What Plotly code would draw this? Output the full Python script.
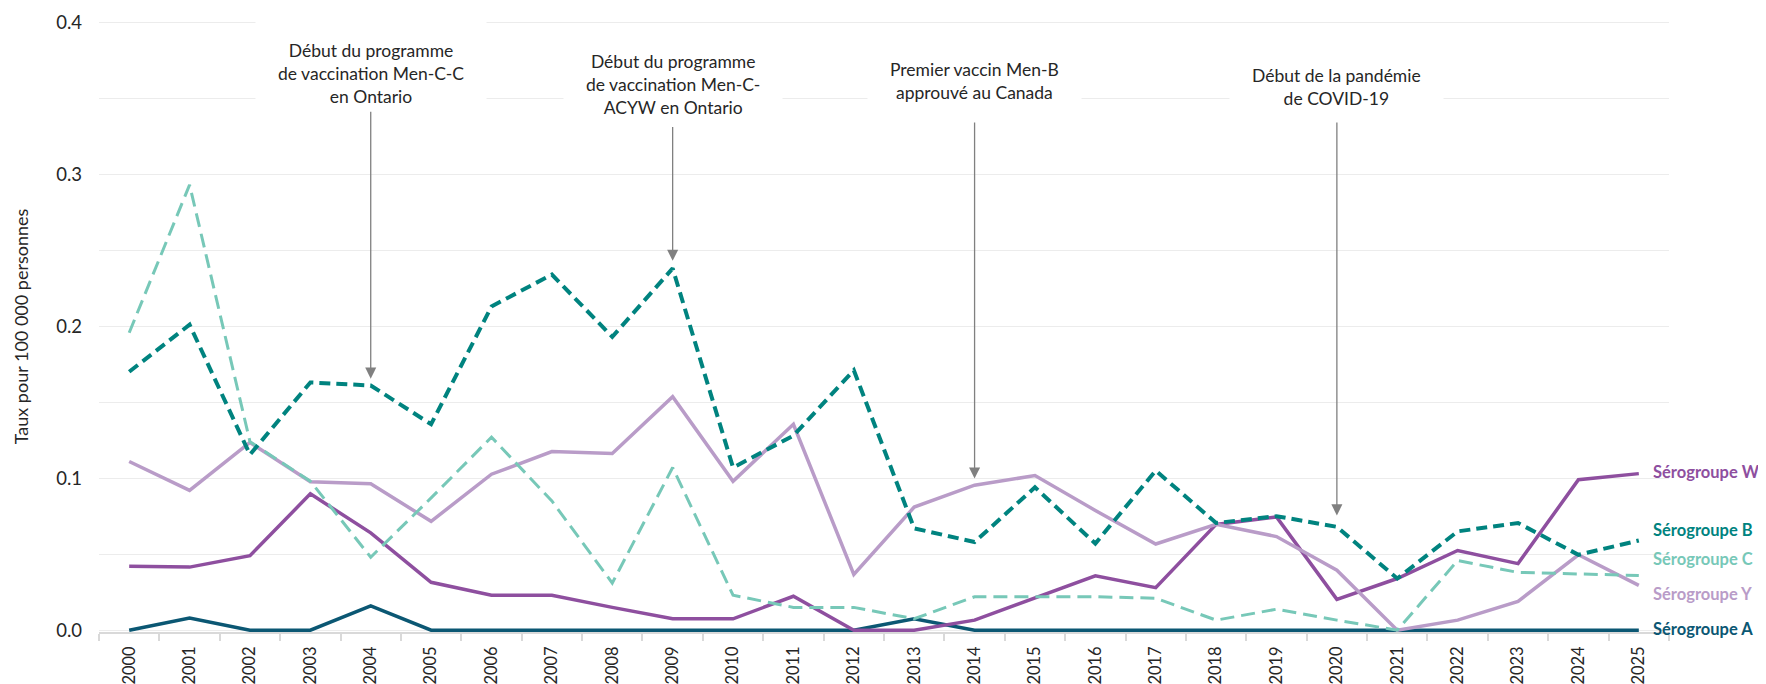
import plotly.graph_objects as go

years = list(range(2000, 2026))

sero_B = [0.170, 0.201, 0.1155, 0.163, 0.161, 0.1355, 0.213, 0.234, 0.193, 0.238,
          0.107, 0.128, 0.171, 0.067, 0.058, 0.094, 0.057, 0.105, 0.0705, 0.075,
          0.068, 0.034, 0.065, 0.0705, 0.0496, 0.059]
sero_C = [0.1957, 0.293, 0.124, 0.098, 0.048, 0.087, 0.127, 0.085, 0.031, 0.107,
          0.023, 0.015, 0.015, 0.0075, 0.022, 0.022, 0.022, 0.021, 0.0066, 0.0138,
          0.0066, 0.0, 0.0458, 0.038, 0.037, 0.036]
sero_Y = [0.111, 0.092, 0.1235, 0.0977, 0.0963, 0.0716, 0.1026, 0.1175, 0.1163, 0.1536,
          0.098, 0.1355, 0.0367, 0.081, 0.0954, 0.1017, 0.0788, 0.0567, 0.0696, 0.0616,
          0.0395, 0.0, 0.0066, 0.019, 0.0496, 0.0295]
sero_W = [0.042, 0.0415, 0.049, 0.0897, 0.064, 0.0315, 0.023, 0.023, 0.015, 0.0075,
          0.0075, 0.0223, 0.0, 0.0, 0.0066, 0.021, 0.0358, 0.028, 0.0696, 0.0745,
          0.0203, 0.034, 0.0524, 0.0438, 0.099, 0.103]
sero_A = [0.0, 0.008, 0.0, 0.0, 0.016, 0.0, 0.0, 0.0, 0.0, 0.0,
          0.0, 0.0, 0.0, 0.0075, 0.0, 0.0, 0.0, 0.0, 0.0, 0.0,
          0.0, 0.0, 0.0, 0.0, 0.0, 0.0]

series_names = ["Sérogroupe A", "Sérogroupe W", "Sérogroupe Y", "Sérogroupe C", "Sérogroupe B"]
series_values = [sero_A, sero_W, sero_Y, sero_C, sero_B]
series_colors = ["#0b5773", "#8e4f9f", "#b99cc8", "#77c8b8", "#00837f"]
series_widths = [3.5, 3.5, 3.5, 3, 4]
series_dash = ["solid", "solid", "solid", "14px,7px", "11px,6px"]

# right-hand labels
label_names = ["Sérogroupe W", "Sérogroupe B", "Sérogroupe C", "Sérogroupe Y", "Sérogroupe A"]
label_y = [0.104, 0.0661, 0.0471, 0.0236, 0.0008]
label_colors = ["#8e4f9f", "#00837f", "#77c8b8", "#b99cc8", "#0b5773"]

# event annotations
event_texts = ["Début du programme<br>de vaccination Men-C-C<br>en Ontario",
               "Début du programme<br>de vaccination Men-C-<br>ACYW en Ontario",
               "Premier vaccin Men-B<br>approuvé au Canada",
               "Début de la pandémie<br>de COVID-19"]
event_years = [2004, 2009, 2014, 2020]
event_text_y = [0.3662, 0.3593, 0.3610, 0.3572]
event_arrow_from = [0.342, 0.332, 0.335, 0.335]
event_arrow_to = [0.1655, 0.243, 0.0998, 0.0755]

FONT = "Lato"

fig = go.Figure()
for name, vals, col, w, d in zip(series_names, series_values, series_colors, series_widths, series_dash):
    fig.add_trace(go.Scatter(x=years, y=vals, mode="lines", name=name,
                             line=dict(color=col, width=w, dash=d), showlegend=False))

annotations = []
for t, yr, ty in zip(event_texts, event_years, event_text_y):
    annotations.append(dict(x=yr, y=ty, xref="x", yref="y", text=t, showarrow=False,
                            font=dict(family=FONT, size=17.5, color="#262626"),
                            bgcolor="white", borderpad=22, align="center",
                            xanchor="center", yanchor="middle"))
for yr, y0, y1 in zip(event_years, event_arrow_from, event_arrow_to):
    annotations.append(dict(x=yr, y=y1, ax=yr, ay=y0, xref="x", yref="y", axref="x", ayref="y",
                            text="", showarrow=True, arrowhead=2, arrowsize=1.7, arrowwidth=1.3,
                            arrowcolor="#808080", standoff=0, startstandoff=0))
for n, ly, c in zip(label_names, label_y, label_colors):
    annotations.append(dict(x=2025.2, y=ly, xref="x", yref="y", text="<b>" + n + "</b>",
                            showarrow=False, xanchor="left", yanchor="middle",
                            font=dict(family=FONT, size=16.5, color=c)))

# page body has an 8px margin: figure is offset accordingly
fig.update_layout(
    width=1758, height=676,
    margin=dict(l=91, r=97, t=13, b=52, autoexpand=False),
    plot_bgcolor="white", paper_bgcolor="white",
    font=dict(family=FONT, color="#404040"),
    annotations=annotations,
)
fig.update_xaxes(
    range=[1999.5, 2025.5], tickvals=years, ticktext=[str(y) for y in years],
    tickangle=-90, ticks="", showgrid=False, zeroline=False, automargin=False,
    showline=True, linecolor="#d9d9d9", linewidth=1.5,
    tickfont=dict(family=FONT, size=16.5, color="#262626"), ticklabelstandoff=6,
    minor=dict(tickvals=[y - 0.5 for y in years] + [years[-1] + 0.5], ticks="outside",
               ticklen=7, tickcolor="#d9d9d9", tickwidth=1.5, showgrid=False),
)
fig.update_yaxes(
    range=[-0.0012, 0.4008], dtick=0.1, tick0=0, tickformat=".1f", showgrid=True,
    gridcolor="#ececec", gridwidth=1.2, zeroline=False, ticks="", automargin=False,
    tickfont=dict(family=FONT, size=18.5, color="#262626"), ticklabelstandoff=16,
    minor=dict(dtick=0.05, showgrid=True, gridcolor="#ececec", gridwidth=1.2),
    title=dict(text="Taux pour 100 000 personnes", font=dict(family=FONT, size=18, color="#262626"),
               standoff=22),
)

fig.write_html("out.html")
